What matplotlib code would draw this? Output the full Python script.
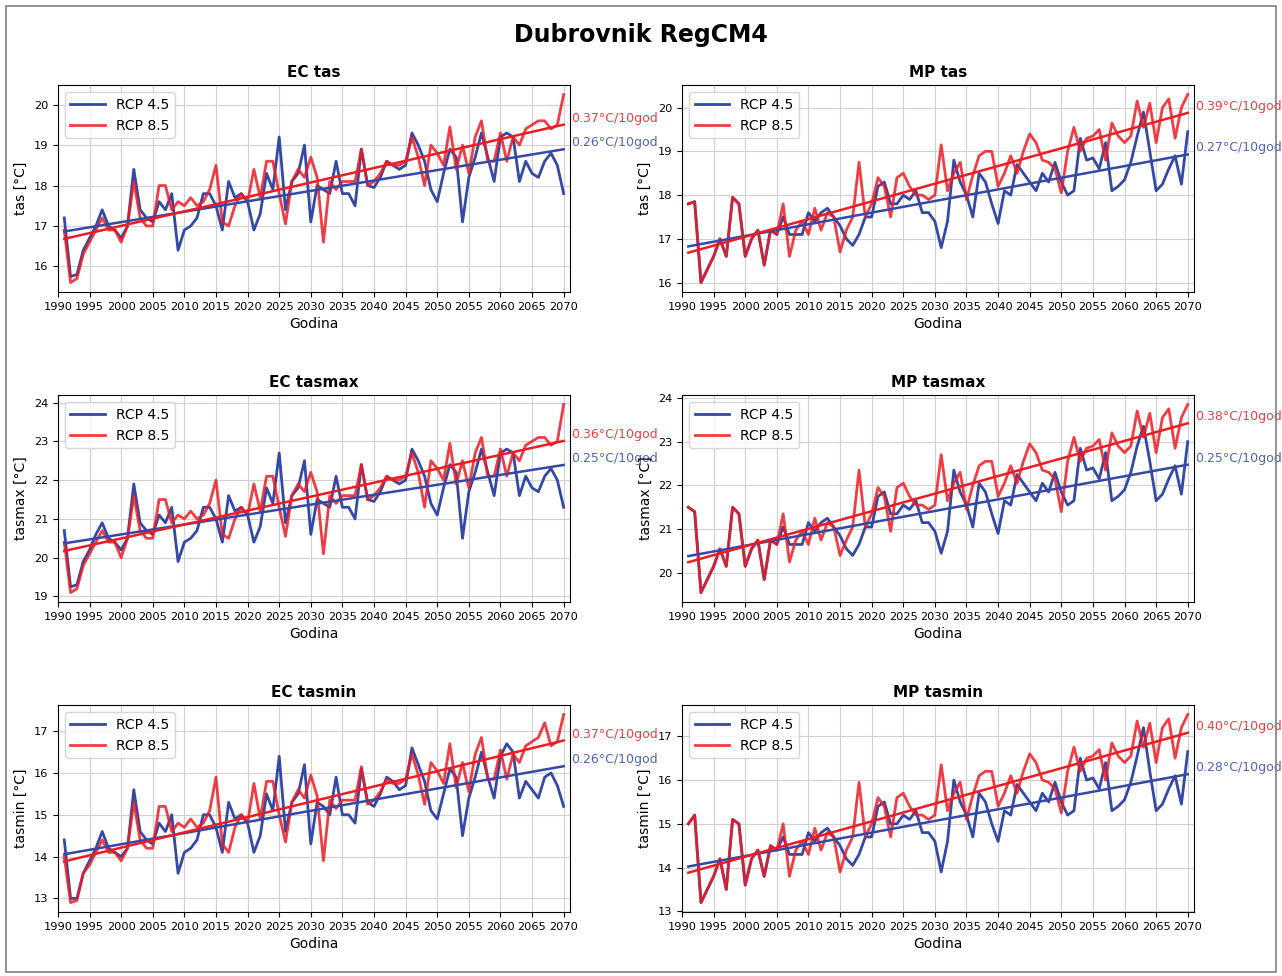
import numpy as np
import matplotlib
matplotlib.use("Agg")
import matplotlib.pyplot as plt
from matplotlib.patches import Rectangle
from matplotlib.transforms import blended_transform_factory

years = list(range(1991, 2071))

# ---- EC ----
ec_tas_45 = [17.2, 15.75, 15.8, 16.4, 16.7, 17.0, 17.4, 17.0, 16.9, 16.7,
             17.0, 18.4, 17.4, 17.2, 17.1, 17.6, 17.4, 17.8, 16.4, 16.9,
             17.0, 17.2, 17.8, 17.8, 17.5, 16.9, 18.1, 17.7, 17.8, 17.6,
             16.9, 17.3, 18.3, 17.9, 19.2, 17.4, 18.1, 18.3, 19.0, 17.1,
             18.0, 17.9, 17.8, 18.6, 17.8, 17.8, 17.5, 18.9, 18.0, 17.95,
             18.2, 18.6, 18.5, 18.4, 18.5, 19.3, 19.0, 18.6, 17.9, 17.6,
             18.3, 18.9, 18.7, 17.1, 18.2, 18.7, 19.3, 18.7, 18.1, 19.2,
             19.3, 19.2, 18.1, 18.6, 18.3, 18.2, 18.6, 18.8, 18.5, 17.8]
ec_tas_85 = [16.9, 15.6, 15.7, 16.3, 16.6, 16.9, 17.2, 16.9, 16.9, 16.6,
             17.0, 18.1, 17.2, 17.0, 17.0, 18.0, 18.0, 17.4, 17.6, 17.5,
             17.7, 17.5, 17.6, 17.9, 18.5, 17.1, 17.0, 17.5, 17.8, 17.6,
             18.4, 17.7, 18.6, 18.6, 17.8, 17.05, 18.1, 18.4, 18.2, 18.7,
             18.2, 16.6, 18.1, 17.9, 18.1, 18.1, 18.1, 18.9, 18.0, 18.1,
             18.3, 18.6, 18.5, 18.5, 18.6, 19.2, 18.7, 18.0, 19.0, 18.8,
             18.5, 19.45, 18.4, 19.0, 18.3, 19.2, 19.6, 18.6, 18.6, 19.3,
             18.6, 19.2, 19.0, 19.4, 19.5, 19.6, 19.6, 19.4, 19.5, 20.25]

ec_tasmax_45 = [20.7, 19.25, 19.3, 19.9, 20.2, 20.6, 20.9, 20.5, 20.4, 20.2,
                20.5, 21.9, 20.9, 20.7, 20.6, 21.1, 20.9, 21.3, 19.9, 20.4,
                20.5, 20.7, 21.3, 21.3, 21.0, 20.4, 21.6, 21.2, 21.3, 21.1,
                20.4, 20.8, 21.8, 21.4, 22.7, 20.9, 21.6, 21.8, 22.5, 20.6,
                21.5, 21.4, 21.3, 22.1, 21.3, 21.3, 21.0, 22.4, 21.5, 21.45,
                21.7, 22.1, 22.0, 21.9, 22.0, 22.8, 22.5, 22.1, 21.4, 21.1,
                21.8, 22.4, 22.2, 20.5, 21.7, 22.2, 22.8, 22.2, 21.6, 22.7,
                22.8, 22.7, 21.6, 22.1, 21.8, 21.7, 22.1, 22.3, 22.0, 21.3]
ec_tasmax_85 = [20.4, 19.1, 19.2, 19.8, 20.1, 20.4, 20.7, 20.4, 20.4, 20.0,
                20.5, 21.6, 20.7, 20.5, 20.5, 21.5, 21.5, 20.9, 21.1, 21.0,
                21.2, 21.0, 21.1, 21.4, 22.0, 20.6, 20.5, 21.0, 21.3, 21.1,
                21.9, 21.2, 22.1, 22.1, 21.3, 20.55, 21.6, 21.9, 21.7, 22.2,
                21.7, 20.1, 21.6, 21.4, 21.6, 21.6, 21.6, 22.4, 21.5, 21.6,
                21.8, 22.1, 22.0, 22.0, 22.1, 22.7, 22.2, 21.3, 22.5, 22.3,
                22.0, 22.95, 21.9, 22.5, 21.8, 22.7, 23.1, 22.1, 22.1, 22.8,
                22.1, 22.7, 22.5, 22.9, 23.0, 23.1, 23.1, 22.9, 23.0, 23.95]

ec_tasmin_45 = [14.4, 13.0, 13.0, 13.6, 13.9, 14.2, 14.6, 14.2, 14.1, 14.0,
                14.2, 15.6, 14.6, 14.4, 14.3, 14.8, 14.6, 15.0, 13.6, 14.1,
                14.2, 14.4, 15.0, 15.0, 14.7, 14.1, 15.3, 14.9, 15.0, 14.8,
                14.1, 14.5, 15.5, 15.1, 16.4, 14.6, 15.3, 15.5, 16.2, 14.3,
                15.3, 15.2, 15.0, 15.9, 15.0, 15.0, 14.8, 16.1, 15.3, 15.2,
                15.5, 15.9, 15.8, 15.6, 15.7, 16.6, 16.2, 15.8, 15.1, 14.9,
                15.5, 16.1, 15.9, 14.5, 15.4, 15.9, 16.5, 15.9, 15.4, 16.4,
                16.7, 16.5, 15.4, 15.8, 15.6, 15.4, 15.9, 16.0, 15.7, 15.2]
ec_tasmin_85 = [14.0, 12.9, 12.95, 13.6, 13.8, 14.1, 14.4, 14.1, 14.1, 13.9,
                14.2, 15.3, 14.4, 14.2, 14.2, 15.2, 15.2, 14.6, 14.8, 14.7,
                14.9, 14.7, 14.8, 15.1, 15.9, 14.3, 14.1, 14.7, 15.0, 14.8,
                15.75, 14.9, 15.8, 15.8, 15.0, 14.35, 15.3, 15.6, 15.4, 15.95,
                15.45, 13.9, 15.35, 15.15, 15.35, 15.35, 15.35, 16.15, 15.25, 15.35,
                15.55, 15.85, 15.75, 15.75, 15.85, 16.45, 15.95, 15.25, 16.25, 16.05,
                15.75, 16.7, 15.65, 16.25, 15.55, 16.45, 16.85, 15.85, 15.85, 16.55,
                15.85, 16.45, 16.25, 16.65, 16.75, 16.85, 17.2, 16.65, 16.75, 17.4]

# ---- MP ----
mp_tas_45 = [17.8, 17.85, 16.0, 16.3, 16.6, 17.0, 16.6, 17.95, 17.8, 16.6,
             17.0, 17.2, 16.4, 17.2, 17.1, 17.5, 17.1, 17.1, 17.1, 17.6,
             17.4, 17.6, 17.7, 17.5, 17.3, 17.0, 16.85, 17.1, 17.5, 17.5,
             18.2, 18.3, 17.8, 17.8, 18.0, 17.9, 18.1, 17.6, 17.6, 17.4,
             16.8, 17.4, 18.8, 18.3, 18.0, 17.5, 18.5, 18.3, 17.8, 17.35,
             18.1, 18.0, 18.7, 18.5, 18.3, 18.1, 18.5, 18.3, 18.75, 18.3,
             18.0, 18.1, 19.3, 18.8, 18.85, 18.6, 19.2, 18.1, 18.2, 18.35,
             18.75, 19.35, 19.9, 19.0, 18.1, 18.25, 18.6, 18.9, 18.25, 19.45]
mp_tas_85 = [17.8, 17.85, 16.0, 16.3, 16.6, 17.0, 16.6, 17.95, 17.8, 16.6,
             17.0, 17.2, 16.4, 17.2, 17.1, 17.8, 16.6, 17.2, 17.4, 17.1,
             17.7, 17.2, 17.6, 17.5, 16.7, 17.2, 17.5, 18.75, 17.5, 17.8,
             18.4, 18.2, 17.5, 18.4, 18.5, 18.2, 18.0, 18.0, 17.9, 18.0,
             19.15, 18.1, 18.5, 18.75, 17.9, 18.45, 18.9, 19.0, 19.0, 18.2,
             18.5, 18.9, 18.5, 19.0, 19.4, 19.2, 18.8, 18.75, 18.6, 18.05,
             19.0, 19.55, 19.0, 19.3, 19.35, 19.5, 18.8, 19.65, 19.35, 19.2,
             19.35, 20.15, 19.55, 20.1, 19.2, 20.0, 20.2, 19.3, 20.0, 20.3]

mp_tasmax_45 = [21.5, 21.4, 19.55, 19.85, 20.15, 20.55, 20.15, 21.5, 21.35, 20.15,
                20.55, 20.75, 19.85, 20.75, 20.65, 21.05, 20.65, 20.65, 20.65, 21.15,
                20.95, 21.15, 21.25, 21.05, 20.85, 20.55, 20.4, 20.65, 21.05, 21.05,
                21.75, 21.85, 21.35, 21.35, 21.55, 21.45, 21.65, 21.15, 21.15, 20.95,
                20.45, 20.95, 22.35, 21.85, 21.55, 21.05, 22.05, 21.85, 21.35, 20.9,
                21.65, 21.55, 22.25, 22.05, 21.85, 21.65, 22.05, 21.85, 22.3, 21.85,
                21.55, 21.65, 22.85, 22.35, 22.4, 22.15, 22.75, 21.65, 21.75, 21.9,
                22.3, 22.9, 23.35, 22.55, 21.65, 21.8, 22.15, 22.45, 21.8, 23.0]
mp_tasmax_85 = [21.5, 21.4, 19.55, 19.85, 20.15, 20.55, 20.15, 21.5, 21.35, 20.15,
                20.55, 20.75, 19.85, 20.75, 20.65, 21.35, 20.25, 20.75, 20.95, 20.65,
                21.25, 20.75, 21.15, 21.05, 20.4, 20.75, 21.05, 22.35, 21.05, 21.35,
                21.95, 21.75, 20.95, 21.95, 22.05, 21.75, 21.55, 21.55, 21.45, 21.55,
                22.7, 21.65, 22.05, 22.3, 21.45, 22.0, 22.45, 22.55, 22.55, 21.75,
                22.05, 22.45, 22.05, 22.55, 22.95, 22.75, 22.35, 22.3, 22.15, 21.4,
                22.55, 23.1, 22.55, 22.85, 22.9, 23.05, 22.35, 23.2, 22.9, 22.75,
                22.9, 23.7, 23.1, 23.65, 22.75, 23.55, 23.75, 22.85, 23.55, 23.85]

mp_tasmin_45 = [15.0, 15.2, 13.2, 13.5, 13.8, 14.2, 13.5, 15.1, 15.0, 13.6,
                14.2, 14.4, 13.8, 14.5, 14.4, 14.7, 14.3, 14.3, 14.3, 14.8,
                14.6, 14.8, 14.9, 14.7, 14.5, 14.2, 14.05, 14.3, 14.7, 14.7,
                15.4, 15.5, 15.0, 15.0, 15.2, 15.1, 15.3, 14.8, 14.8, 14.6,
                13.9, 14.6, 16.0, 15.5, 15.2, 14.7, 15.7, 15.5, 15.0, 14.6,
                15.3, 15.2, 15.9, 15.7, 15.5, 15.3, 15.7, 15.5, 15.95, 15.5,
                15.2, 15.3, 16.5, 16.0, 16.05, 15.8, 16.4, 15.3, 15.4, 15.55,
                15.95, 16.55, 17.2, 16.2, 15.3, 15.45, 15.8, 16.1, 15.45, 16.65]
mp_tasmin_85 = [15.0, 15.2, 13.2, 13.5, 13.8, 14.2, 13.5, 15.1, 15.0, 13.6,
                14.2, 14.4, 13.8, 14.5, 14.4, 15.0, 13.8, 14.4, 14.6, 14.3,
                14.9, 14.4, 14.8, 14.7, 13.9, 14.4, 14.7, 15.95, 14.7, 15.0,
                15.6, 15.4, 14.7, 15.6, 15.7, 15.4, 15.2, 15.2, 15.1, 15.2,
                16.35, 15.3, 15.7, 15.95, 15.1, 15.65, 16.1, 16.2, 16.2, 15.4,
                15.7, 16.1, 15.7, 16.2, 16.6, 16.4, 16.0, 15.95, 15.8, 15.25,
                16.2, 16.75, 16.2, 16.5, 16.55, 16.7, 16.0, 16.85, 16.55, 16.4,
                16.55, 17.35, 16.75, 17.3, 16.4, 17.2, 17.4, 16.5, 17.2, 17.5]

# trend labels (°C per decade): (RCP4.5, RCP8.5)
slopes = {
    "EC tas": (0.26, 0.37), "MP tas": (0.27, 0.39),
    "EC tasmax": (0.25, 0.36), "MP tasmax": (0.25, 0.38),
    "EC tasmin": (0.26, 0.37), "MP tasmin": (0.28, 0.40),
}

panels = [
    ("EC tas", "tas [°C]", ec_tas_45, ec_tas_85),
    ("MP tas", "tas [°C]", mp_tas_45, mp_tas_85),
    ("EC tasmax", "tasmax [°C]", ec_tasmax_45, ec_tasmax_85),
    ("MP tasmax", "tasmax [°C]", mp_tasmax_45, mp_tasmax_85),
    ("EC tasmin", "tasmin [°C]", ec_tasmin_45, ec_tasmin_85),
    ("MP tasmin", "tasmin [°C]", mp_tasmin_45, mp_tasmin_85),
]

c45 = '#3448a5'
c85 = '#ec1c24'

fig = plt.figure(figsize=(12.82, 9.76), dpi=100)
fig.patches.append(Rectangle((0.005, 0.004), 0.99, 0.99, transform=fig.transFigure,
                             fill=False, edgecolor='#808080', lw=1.2))
fig.text(0.5, 0.964, "Dubrovnik RegCM4", ha='center', va='center',
         fontsize=17, fontweight='bold')

lefts = [0.0452, 0.532]
bottoms = [0.7008, 0.3832, 0.0656]
w, h = 0.3994, 0.212

yrs = np.array(years)
for i, (title, ylab, s45, s85) in enumerate(panels):
    ax = fig.add_axes([lefts[i % 2], bottoms[i // 2], w, h])
    ax.plot(yrs, s45, color=c45, lw=2, label='RCP 4.5')
    ax.plot(yrs, s85, color=c85, lw=2, alpha=0.85, label='RCP 8.5')
    tr = blended_transform_factory(ax.transAxes, ax.transData)
    for s, c, k in ((s45, c45, 0), (s85, c85, 1)):
        p = np.polyfit(yrs, s, 1)
        ax.plot(yrs, np.polyval(p, yrs), color=c, lw=1.8)
        ax.text(1.003, np.polyval(p, yrs[-1]), f"{slopes[title][k]:.2f}°C/10god",
                transform=tr, color=c, fontsize=9, va='bottom', ha='left', alpha=0.85)
    ax.set_xlim(1990, 2071)
    ax.set_xticks(range(1990, 2071, 5))
    ax.tick_params(axis='x', labelsize=8.2)
    ax.tick_params(axis='y', labelsize=8.2)
    ax.yaxis.set_major_locator(matplotlib.ticker.MultipleLocator(1))
    ax.grid(True, color='#d0d0d0', lw=0.8)
    ax.set_title(title, fontsize=11, fontweight='bold')
    ax.set_xlabel('Godina', fontsize=10)
    ax.set_ylabel(ylab, fontsize=10)
    ax.legend(loc='upper left', fontsize=10, handlelength=2.5)

fig.savefig('out.png', dpi=100)
